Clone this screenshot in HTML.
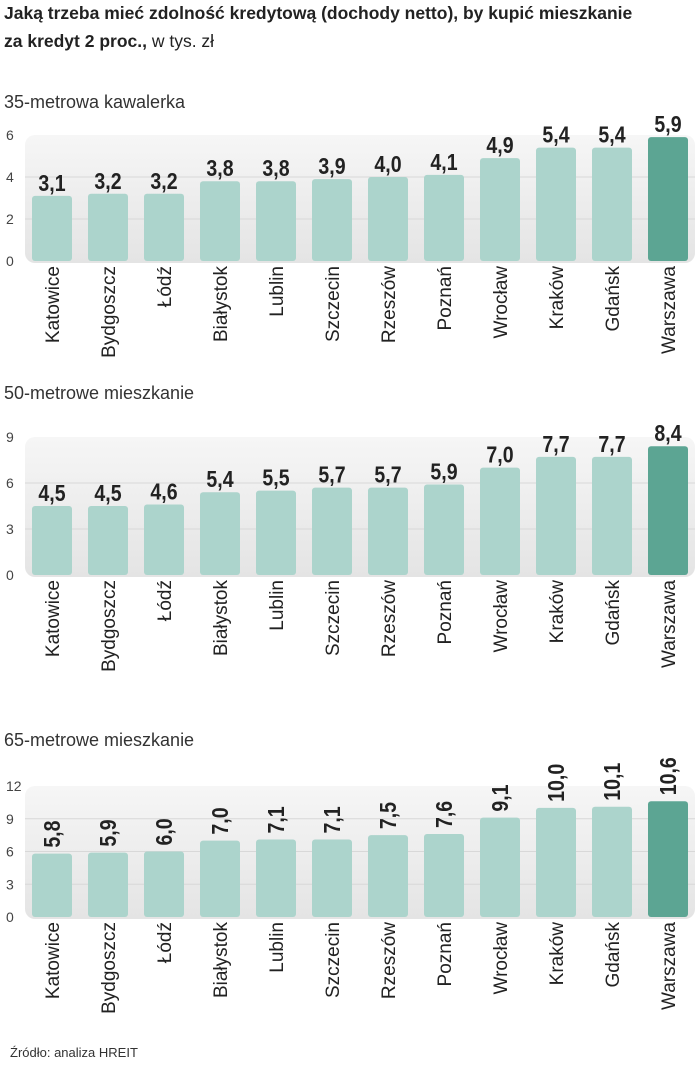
<!DOCTYPE html>
<html><head><meta charset="utf-8">
<style>
body{margin:0;background:#fff;width:698px;height:1080px;overflow:hidden;font-family:"Liberation Sans",sans-serif;}
svg{position:absolute;left:0;top:0;}
</style></head>
<body>
<svg id="c" width="698" height="1080">
<defs>
<linearGradient id="bg" x1="0" y1="0" x2="0" y2="1">
<stop offset="0" stop-color="#f6f6f6"/><stop offset="1" stop-color="#e4e4e4"/>
</linearGradient>
</defs>
<text x="4" y="19" font-size="17.5" font-weight="bold" fill="#222">Jaką trzeba mieć zdolność kredytową (dochody netto), by kupić mieszkanie</text>
<text x="4" y="47" font-size="17.5" fill="#222"><tspan font-weight="bold">za kredyt 2 proc.,</tspan> w tys. zł</text>
<text x="10" y="1057" font-size="13" fill="#333">Źródło: analiza HREIT</text>
</svg>
<script>
const cities=["Katowice","Bydgoszcz","Łódź","Białystok","Lublin","Szczecin","Rzeszów","Poznań","Wrocław","Kraków","Gdańsk","Warszawa"];
const values35=[3.1,3.2,3.2,3.8,3.8,3.9,4.0,4.1,4.9,5.4,5.4,5.9];
const values50=[4.5,4.5,4.6,5.4,5.5,5.7,5.7,5.9,7.0,7.7,7.7,8.4];
const values65=[5.8,5.9,6.0,7.0,7.1,7.1,7.5,7.6,9.1,10.0,10.1,10.6];
const ticks35=[0,2,4,6];
const ticks50=[0,3,6,9];
const ticks65=[0,3,6,9,12];
const titles=["35-metrowa kawalerka","50-metrowe mieszkanie","65-metrowe mieszkanie"];

const NS="http://www.w3.org/2000/svg";
const svg=document.getElementById('c');
function mk(tag,attrs,parent){const e=document.createElementNS(NS,tag);for(const k in attrs)e.setAttribute(k,attrs[k]);(parent||svg).appendChild(e);return e;}
const fmt=v=>v.toFixed(1).replace('.',',');

function chart(idx,vals,ticks,top,base,titleY,vertLabels){
  const g=mk('g',{});
  
  
  const max=ticks[ticks.length-1];
  const y=v=>base-(v/max)*(base-top);
  const x=i=>32+56*i;
  const t=mk('text',{x:4,y:titleY,'font-size':18,fill:'#333'},g);
  t.textContent=titles[idx];
  
  
  const bg=mk('rect',{x:25,y:top,width:670,height:base-top+2,rx:10,fill:'url(#bg)'},g);
  
  
  ticks.forEach(tv=>{
    if(tv>0&&tv<max){
      const l=mk('line',{x1:25,x2:695,y1:y(tv),y2:y(tv),stroke:'#d8d8d8','stroke-width':1},g);
      
      
    }
    const tt=mk('text',{x:6,y:y(tv)+5,'font-size':14,fill:'#444'},g);
    tt.textContent=tv;
    
    
  });
  vals.forEach((v,i)=>{
    const warsaw=i===vals.length-1;
    const b=mk('rect',{x:x(i),y:y(v),width:40,height:base-y(v),rx:3,fill:warsaw?'#5ca593':'#acd4cc'},g);
    
    
    const cx=x(i)+20;
    let vl;
    if(vertLabels){
      vl=mk('text',{x:0,y:0,'font-size':23,'font-weight':'bold',fill:'#222',transform:`translate(${cx+8},${y(v)-6}) rotate(-90) scale(0.85,1)`},g);
    }else{
      vl=mk('text',{x:0,y:0,'font-size':23,'font-weight':'bold','text-anchor':'middle',fill:'#222',transform:`translate(${cx},${y(v)-5}) scale(0.85,1)`},g);
    }
    vl.textContent=fmt(v);
    
    
    const cl=mk('text',{x:0,y:0,'font-size':19,'text-anchor':'end',fill:'#222',transform:`translate(${cx+7},${base+5}) rotate(-90)`},g);
    cl.textContent=cities[i];
    
    
  });
}
chart(0,values35,ticks35,135,261,108,false);
chart(1,values50,ticks50,437,575,399,false);
chart(2,values65,ticks65,786,917,746,true);
</script>
</body></html>
